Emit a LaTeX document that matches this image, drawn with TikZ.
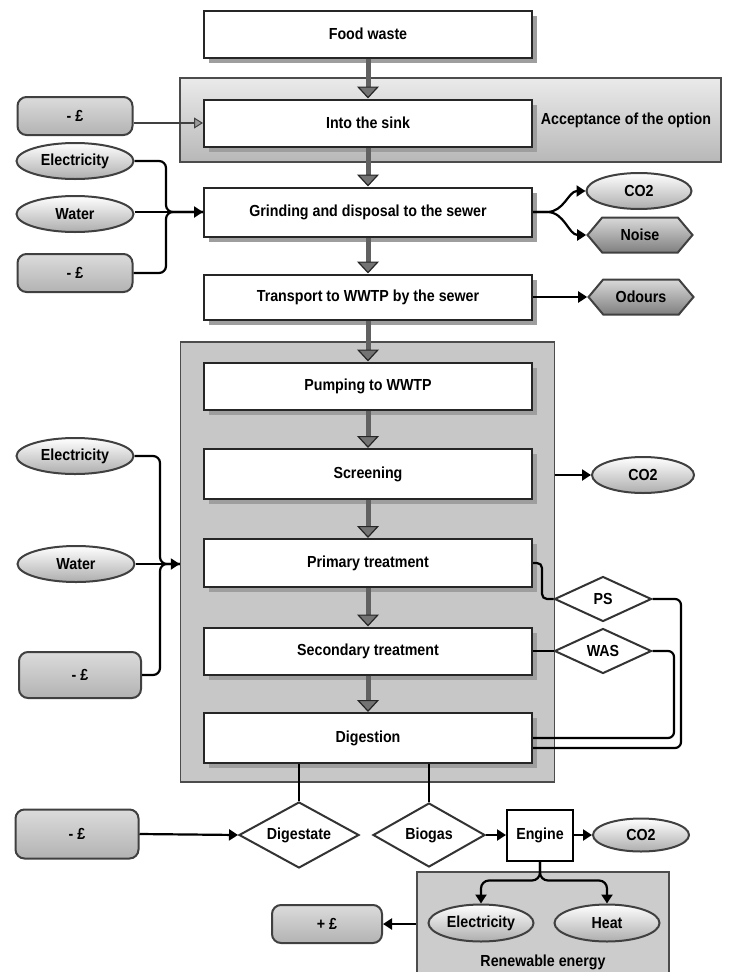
\documentclass[tikz,border=0pt]{standalone}
\usepackage{fontspec}
\setmainfont[FakeStretch=0.89]{Liberation Sans}
\usepackage{tikz}
\usetikzlibrary{arrows.meta, shapes.geometric, shapes.symbols, shadows}

\tikzset{
    proc/.style={draw=black!85, line width=2pt, fill=white, minimum width=328pt, minimum height=47pt,
        drop shadow={shadow xshift=5pt, shadow yshift=-5pt, fill=black!38, opacity=1}},
    zone/.style={draw=black!70, line width=1.5pt, fill=black!22},
    money/.style={draw=black!75, line width=2pt, rounded corners=9pt, top color=black!14, bottom color=black!30,
        minimum width=115pt, minimum height=38pt},
    res/.style={ellipse, draw=black!75, line width=2pt, top color=white, bottom color=black!32,
        minimum width=105pt, minimum height=36pt, inner sep=0pt},
    emit/.style={signal, signal to=west and east, signal pointer angle=100, draw=black!75, line width=2pt,
        top color=black!15, bottom color=black!50, minimum width=105pt, minimum height=35pt, inner sep=0pt},
    prod/.style={diamond, aspect=1.8, draw=black!80, line width=2pt, fill=white, inner sep=1pt},
    flow/.style={line width=5pt, draw=black!62,
        -{Triangle[length=12pt, width=22pt, line width=1.2pt, color=black!85, fill=black!55]}},
    link/.style={line width=2.2pt, draw=black},
    tip/.style={-{Triangle[length=9pt, width=11pt]}},
    gtip/.style={-{Triangle[length=9pt, width=11pt, line width=1pt, color=black!75, fill=black!40]}},
}

\begin{document}
\begin{tikzpicture}[x=1pt, y=-1pt, font=\bfseries\fontsize{16}{19}\selectfont]
    \useasboundingbox[fill=white] (0,0) rectangle (729,972);

    % grey zones
    \node[zone, top color=black!8, bottom color=black!28, minimum width=541pt, minimum height=84pt] (acc) at (450.5,120) {};
    \node (acct) at (626,120) {Acceptance of the option};
    \node[zone, minimum width=374pt, minimum height=440pt] (wwtp) at (367.5,562) {};
    \node[zone, fill=black!20, minimum width=252pt, minimum height=120pt] (ren) at (543,932) {};
    \node (rent) at (543,962) {Renewable energy};

    % main chain
    \node[proc] (1) at (368,34) {Food waste};
    \node[proc] (2) at (368,123) {Into the sink};
    \node[proc, minimum height=49pt] (3) at (368,212) {Grinding and disposal to the sewer};
    \node[proc, minimum height=45pt] (4) at (368,297) {Transport to WWTP by the sewer};
    \node[proc] (5) at (368,386) {Pumping to WWTP};
    \node[proc, minimum height=50pt] (6) at (368,474) {Screening};
    \node[proc, minimum height=48pt] (7) at (368,563) {Primary treatment};
    \node[proc] (8) at (368,651) {Secondary treatment};
    \node[proc, minimum height=50pt] (9) at (368,738) {Digestion};

    % inputs
    \node[money] (in1) at (75,116) {- £};
    \node[res, minimum width=117pt] (in2) at (75,161) {Electricity};
    \node[res, minimum width=117pt] (in3) at (75,214) {Water};
    \node[money] (in4) at (75,273) {- £};
    \node[res, minimum width=117pt] (in5) at (75,456) {Electricity};
    \node[res, minimum width=117pt] (in6) at (76,564) {Water};
    \node[money, minimum width=122pt, minimum height=46pt] (in7) at (80,675) {- £};
    \node[money, minimum width=123pt, minimum height=49pt] (in8) at (77,834) {- £};

    % outputs
    \node[res] (out1) at (639,191) {CO2};
    \node[emit] (out2) at (640,235) {Noise};
    \node[emit] (out3) at (641,297) {Odours};
    \node[res, minimum width=102pt] (out4) at (643,475) {CO2};
    \node[prod, minimum width=97pt, minimum height=45pt] (ps) at (603,599) {PS};
    \node[prod, minimum width=97pt, minimum height=45pt] (was) at (603,651) {WAS};
    \node[prod, minimum width=120pt, minimum height=66pt] (dg) at (299,835) {Digestate};
    \node[prod, minimum width=112pt, minimum height=64pt] (bg) at (429,835) {Biogas};
    \node[draw=black, line width=2pt, fill=white, minimum width=66pt, minimum height=51pt, inner sep=0pt] (eng) at (540,835) {Engine};
    \node[res, minimum width=96pt, minimum height=33pt] (out5) at (641,835) {CO2};
    \node[res, minimum height=37pt] (el) at (481,923) {Electricity};
    \node[res, minimum height=37pt] (ht) at (607,923) {Heat};
    \node[money, minimum width=110pt] (gain) at (327,924) {+ £};

    % process flow
    \path
        (1) edge [flow] (2)
        (2) edge [flow] (3)
        (3) edge [flow] (4)
        (4) edge [flow] (5)
        (5) edge [flow] (6)
        (6) edge [flow] (7)
        (7) edge [flow] (8)
        (8) edge [flow] (9)
        ;

    % into the sink and grinding
    \draw[link, draw=black!75, gtip] (in1.east |- 2.west) -- (2.west);
    \coordinate (j1) at (166,212);
    \draw[link, rounded corners=7pt] (in2.east) -| (j1) -- (3.west);
    \draw[link, rounded corners=7pt] (in4.east) -| (j1) -- (3.west);
    \draw[link, tip] (in3.east |- 3.west) -- (3.west);
    \draw[link, tip] (3.east) -- ++(14,0) to[out=0, in=180] (out1.west);
    \draw[link, tip] (3.east) -- ++(14,0) to[out=0, in=180] (out2.west);
    \draw[link, tip] (4.east) -- (out3.west);

    % treatment plant
    \coordinate (j2) at (160,564);
    \draw[link, rounded corners=7pt] (in5.east) -| (j2) -- (wwtp.west |- j2);
    \draw[link, rounded corners=7pt] (in7.east) -| (j2) -- (wwtp.west |- j2);
    \draw[link, tip] (in6.east) -- (wwtp.west |- j2);
    \draw[link, tip] (wwtp.east |- out4.west) -- (out4.west);

    % sludge lines
    \coordinate (r1) at (681,748);
    \coordinate (r2) at (674,738);
    \draw[link, rounded corners=5pt] (7.east) -- ++(9,0) |- (ps.west);
    \draw[link] (8.east) -- (was.west);
    \draw[link, rounded corners=6pt] (ps.east) -| (r1) -- (r1 -| 9.east);
    \draw[link, rounded corners=6pt] (was.east) -| (r2) -- (r2 -| 9.east);

    % digestion products
    \draw[link] (9.south -| dg.north) -- (dg.north);
    \draw[link] (9.south -| bg.north) -- (bg.north);
    \draw[link, tip] (in8.east) -- (dg.west);
    \draw[link, tip] (bg.east) -- (eng.west);
    \draw[link, tip] (eng.east) -- (out5.west);
    \draw[link, tip, rounded corners=8pt] (eng.south) -- ++(0,19) -| (el.north);
    \draw[link, tip, rounded corners=8pt] (eng.south) -- ++(0,19) -| (ht.north);
    \draw[link, tip] (ren.west |- gain.east) -- (gain.east);
\end{tikzpicture}
\end{document}
